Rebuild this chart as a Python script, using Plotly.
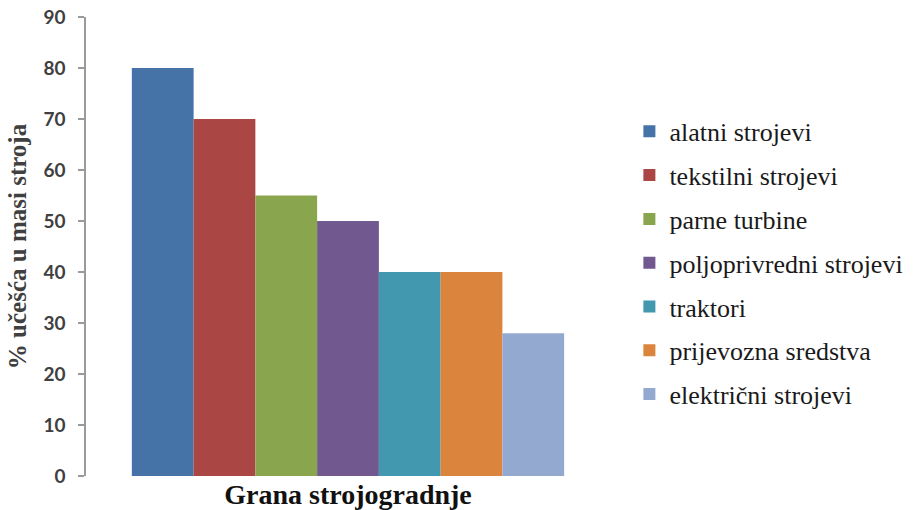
import plotly.graph_objects as go

categories = ["alatni strojevi", "tekstilni strojevi", "parne turbine",
              "poljoprivredni strojevi", "traktori", "prijevozna sredstva",
              "električni strojevi"]
values = [80, 70, 55, 50, 40, 40, 28]
colors = ["#4572A7", "#AA4643", "#89A54E", "#71588F", "#4198AF", "#DB843D", "#93A9CF"]
group_label = ["Grana strojogradnje"]
y_ticks = [0, 10, 20, 30, 40, 50, 60, 70, 80, 90]

fig = go.Figure()
for name, v, c in zip(categories, values, colors):
    fig.add_trace(go.Bar(x=group_label, y=[v], name=name, marker_color=c,
                         marker_line_width=0, legendgroup=name))

fig.update_layout(
    width=920, height=510,
    margin=dict(l=86, r=305, t=17, b=34),
    paper_bgcolor="white", plot_bgcolor="white",
    barmode="group", bargap=0.175, bargroupgap=0,
    showlegend=True,
    legend=dict(x=1.037, xanchor="left", y=0.802, yanchor="top",
                font=dict(family="Liberation Serif", size=26, color="#1a1a1a"),
                tracegroupgap=7, bgcolor="rgba(0,0,0,0)"),
    xaxis=dict(showticklabels=False, showline=False, showgrid=False, ticks="",
               automargin=False,
               title=dict(text="Grana strojogradnje", standoff=8,
                          font=dict(family="Liberation Serif", size=28, color="#111", weight="bold"))),
    yaxis=dict(range=[0, 90], tickvals=y_ticks, showgrid=False, zeroline=False,
               automargin=False,
               showline=True, linecolor="#9a9a9a", linewidth=1.5,
               ticks="outside", ticklen=6, tickcolor="#9a9a9a", tickwidth=1.5,
               ticklabelstandoff=9,
               tickfont=dict(family="Lato", size=19, color="#404040", weight="bold"),
               title=dict(text="% učešća u masi stroja", standoff=10,
                          font=dict(family="Liberation Serif", size=25, color="#404040", weight="bold"))),
)

fig.write_html("out.html", config={"displayModeBar": False},
               post_script="document.body.style.margin='0';document.body.style.overflow='hidden';")
